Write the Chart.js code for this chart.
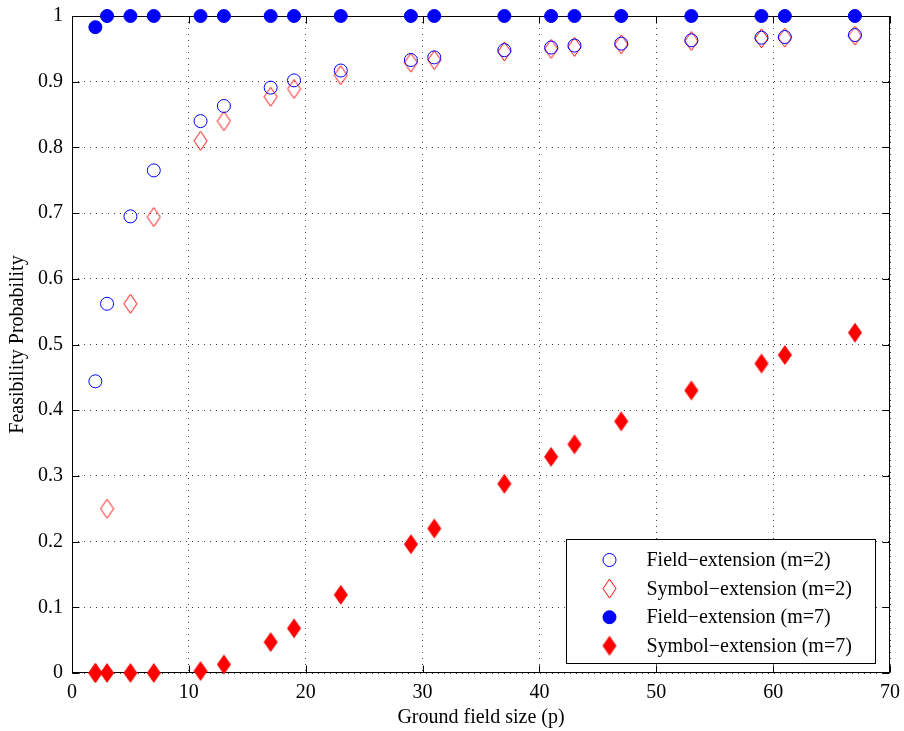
<!DOCTYPE html>
<html lang="en">
<head>
  <meta charset="UTF-8">
  <title>Feasibility Probability vs Ground field size</title>
  <script src="https://cdn.jsdelivr.net/npm/chart.js"></script>
  <style>
    html, body { margin: 0; padding: 0; background: #fff; }
    #wrap { width: 904px; height: 731px; }
  </style>
</head>
<body>
  <div id="wrap"><canvas id="grafico" width="904" height="731"></canvas></div>

  <script>
    // ground field sizes (primes) on the x axis
    const primes = [2, 3, 5, 7, 11, 13, 17, 19, 23, 29, 31, 37, 41, 43, 47, 53, 59, 61, 67];

    // feasibility probabilities
    const fieldM2  = [0.444, 0.562, 0.695, 0.765, 0.840, 0.863, 0.891, 0.902, 0.917, 0.933, 0.937, 0.948, 0.952, 0.955, 0.958, 0.963, 0.967, 0.968, 0.971];
    const symbolM2 = [0.000, 0.250, 0.562, 0.694, 0.810, 0.840, 0.877, 0.889, 0.910, 0.929, 0.933, 0.946, 0.950, 0.953, 0.957, 0.962, 0.966, 0.967, 0.970];
    const fieldM7  = [0.983, 1, 1, 1, 1, 1, 1, 1, 1, 1, 1, 1, 1, 1, 1, 1, 1, 1, 1];
    const symbolM7 = [0, 0, 0, 0, 0.003, 0.013, 0.047, 0.068, 0.119, 0.196, 0.220, 0.288, 0.329, 0.348, 0.383, 0.430, 0.471, 0.484, 0.518];

    const seriesNames = ['Field\u2212extension (m=2)', 'Symbol\u2212extension (m=2)', 'Field\u2212extension (m=7)', 'Symbol\u2212extension (m=7)'];

    const xTicks = [0, 10, 20, 30, 40, 50, 60, 70];
    const yTicks = [0, 0.1, 0.2, 0.3, 0.4, 0.5, 0.6, 0.7, 0.8, 0.9, 1];

    const FONT = 'Liberation Serif, Times New Roman, serif';
    const BLUE = '#0000ff';
    const RED = '#ff0000';

    // MATLAB style diamond (taller than wide), drawn once on a small canvas
    function diamond(w, h, filled) {
      const c = document.createElement('canvas');
      c.width = w; c.height = h;
      const g = c.getContext('2d');
      g.beginPath();
      g.moveTo(w / 2, 1);
      g.lineTo(w - 1, h / 2);
      g.lineTo(w / 2, h - 1);
      g.lineTo(1, h / 2);
      g.closePath();
      if (filled) {
        g.fillStyle = RED;
        g.fill();
      } else {
        g.strokeStyle = RED;
        g.lineWidth = 1;
        g.stroke();
      }
      return c;
    }
    const openDiamond = diamond(15, 21, false);
    const fullDiamond = diamond(16, 22, true);

    const toPoints = vals => primes.map((p, i) => ({ x: p, y: vals[i] }));

    const datasets = [
      { label: seriesNames[0], data: toPoints(fieldM2), pointStyle: 'circle', pointRadius: 6.5, borderColor: BLUE, backgroundColor: 'rgba(0,0,0,0)', borderWidth: 1 },
      { label: seriesNames[1], data: toPoints(symbolM2), pointStyle: openDiamond, pointRadius: 8, borderColor: RED, backgroundColor: RED, borderWidth: 1 },
      { label: seriesNames[2], data: toPoints(fieldM7), pointStyle: 'circle', pointRadius: 6.5, borderColor: BLUE, backgroundColor: BLUE, borderWidth: 1 },
      { label: seriesNames[3], data: toPoints(symbolM7), pointStyle: fullDiamond, pointRadius: 8, borderColor: RED, backgroundColor: RED, borderWidth: 1 }
    ].map(d => Object.assign(d, { showLine: false, clip: false, pointHoverRadius: d.pointRadius }));

    // box round the axes, inward ticks on all four sides
    const marco = {
      id: 'marco',
      beforeDatasetsDraw(chart) {
        const { ctx, chartArea: a, scales: { x, y } } = chart;
        const L = Math.round(a.left) + 0.5, R = Math.round(a.right) - 0.5;
        const T = Math.round(a.top) + 0.5, B = Math.round(a.bottom) - 0.5;
        ctx.save();
        ctx.strokeStyle = '#000';
        ctx.lineWidth = 1;
        ctx.strokeRect(L, T, R - L, B - T);
        ctx.beginPath();
        xTicks.forEach(v => {
          const px = Math.round(x.getPixelForValue(v)) + 0.5;
          ctx.moveTo(px, B); ctx.lineTo(px, B - 7);
          ctx.moveTo(px, T); ctx.lineTo(px, T + 7);
        });
        yTicks.forEach(v => {
          const py = Math.round(y.getPixelForValue(v)) + 0.5;
          ctx.moveTo(L, py); ctx.lineTo(L + 7, py);
          ctx.moveTo(R, py); ctx.lineTo(R - 7, py);
        });
        ctx.stroke();
        ctx.restore();
      },
      // legend box inside the axes, lower right
      afterDraw(chart) {
        const { ctx, chartArea: a } = chart;
        const w = 309, h = 124;
        const bx = Math.round(a.right - 15 - w) + 0.5;
        const by = Math.round(a.bottom - 10 - h) + 0.5;
        ctx.save();
        ctx.fillStyle = '#fff';
        ctx.fillRect(bx, by, w, h);
        ctx.strokeStyle = '#000';
        ctx.lineWidth = 1;
        ctx.strokeRect(bx, by, w, h);
        ctx.font = '20px ' + FONT;
        ctx.textBaseline = 'middle';
        ctx.fillStyle = '#000';
        chart.data.datasets.forEach((ds, i) => {
          const cy = by + 20.5 + i * 28.6;
          const cx = bx + 43;
          ctx.save();
          ctx.lineWidth = ds.borderWidth;
          ctx.strokeStyle = ds.borderColor;
          ctx.fillStyle = ds.backgroundColor;
          Chart.helpers.drawPoint(ctx, { pointStyle: ds.pointStyle, radius: ds.pointRadius, borderWidth: ds.borderWidth, rotation: 0 }, cx, cy);
          ctx.restore();
          ctx.fillText(ds.label, bx + 80, cy + 1);
        });
        ctx.restore();
      }
    };

    const ctx = document.getElementById('grafico').getContext('2d');
    new Chart(ctx, {
      type: 'scatter',
      data: { datasets: datasets },
      plugins: [marco],
      options: {
        responsive: false,
        animation: false,
        events: [],
        layout: { padding: { top: 16, right: 14, left: 0, bottom: 0 } },
        plugins: {
          legend: { display: false },
          tooltip: { enabled: false }
        },
        scales: {
          x: {
            type: 'linear',
            min: 0, max: 70,
            afterFit: s => { s.height = 58; s.paddingLeft = 0; s.paddingRight = 0; },
            afterBuildTicks: s => { s.ticks = xTicks.map(v => ({ value: v })); },
            grid: { color: '#444', lineWidth: 1, drawTicks: false },
            border: { display: false, dash: [1, 5] },
            ticks: { color: '#000', padding: 8, font: { family: FONT, size: 20 }, callback: v => String(v) },
            title: { display: true, text: 'Ground field size (p)', color: '#000', padding: { top: 0, bottom: 1 }, font: { family: FONT, size: 20 } }
          },
          y: {
            type: 'linear',
            min: 0, max: 1,
            afterFit: s => { s.width = 72; s.paddingTop = 0; s.paddingBottom = 0; },
            afterBuildTicks: s => { s.ticks = yTicks.map(v => ({ value: v })); },
            grid: { color: '#444', lineWidth: 1, drawTicks: false },
            border: { display: false, dash: [1, 5] },
            ticks: { color: '#000', padding: 9, font: { family: FONT, size: 20 }, callback: v => String(+v.toFixed(1)) },
            title: { display: true, text: 'Feasibility Probability', color: '#000', padding: { top: 6, bottom: 0 }, font: { family: FONT, size: 20 } }
          }
        }
      }
    });
  </script>
</body>
</html>
